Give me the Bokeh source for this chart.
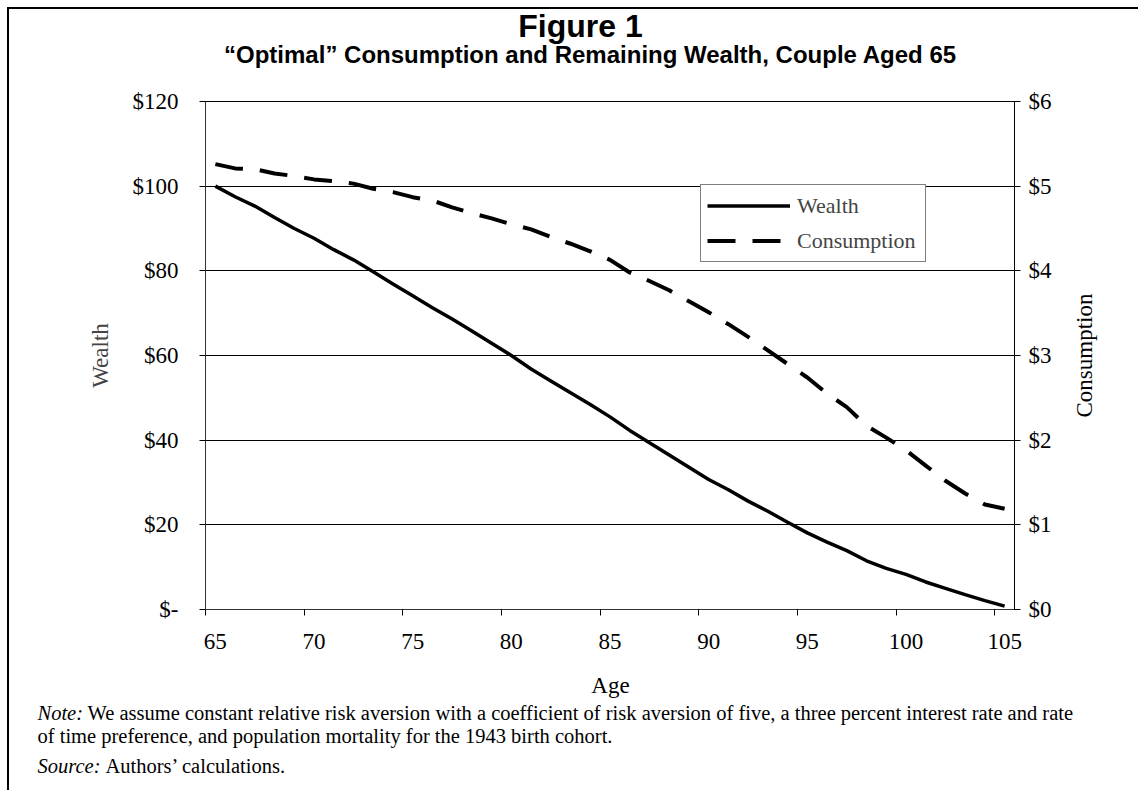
import math
from bokeh.plotting import figure
from bokeh.models import Range1d, LinearAxis, FixedTicker, Legend, LegendItem
from bokeh.embed import file_html
from bokeh.resources import INLINE
from bokeh.core.properties import value

# ---------------- data ----------------
ages = list(range(65, 106))
wealth = [100.0, 97.5, 95.3, 92.6, 90.0, 87.7, 85.0, 82.6, 79.8, 76.9,
          74.1, 71.3, 68.6, 65.8, 62.9, 60.0, 56.8, 54.0, 51.2, 48.4,
          45.5, 42.3, 39.4, 36.5, 33.6, 30.7, 28.3, 25.6, 23.2, 20.6,
          18.1, 15.9, 13.9, 11.5, 9.7, 8.3, 6.5, 5.0, 3.5, 2.1, 0.8]
consumption = [5.26, 5.21, 5.20, 5.15, 5.12, 5.08, 5.06, 5.03, 4.97, 4.93,
               4.87, 4.83, 4.75, 4.68, 4.62, 4.55, 4.49, 4.40, 4.32, 4.23,
               4.13, 3.98, 3.88, 3.77, 3.64, 3.51, 3.37, 3.22, 3.06, 2.90,
               2.74, 2.55, 2.39, 2.17, 2.03, 1.88, 1.70, 1.52, 1.37, 1.24, 1.19]
age_ticks = [65, 70, 75, 80, 85, 90, 95, 100, 105]
age_boundaries = [64.5, 69.5, 74.5, 79.5, 84.5, 89.5, 94.5, 99.5, 104.5]
wealth_ticks = [0, 20, 40, 60, 80, 100, 120]
wealth_tick_labels = ["$-", "$20", "$40", "$60", "$80", "$100", "$120"]
cons_ticks = [0, 1, 2, 3, 4, 5, 6]
cons_tick_labels = ["$0", "$1", "$2", "$3", "$4", "$5", "$6"]

title_text = "Figure 1"
subtitle_text = "\u201cOptimal\u201d Consumption and Remaining Wealth, Couple Aged 65"
x_title = "Age"
y_title = "Wealth"
y2_title = "Consumption"
note_lead = "Note:"
note_line1 = "We assume constant relative risk aversion with a coefficient of risk aversion of five, a three percent interest rate and rate"
note_line2 = "of time preference, and population mortality for the 1943 birth cohort."
source_lead = "Source:"
source_text = "Authors\u2019 calculations."

# ---------------- layout ----------------
OFF = 9                    # page offset of the content (7px margin + 2px border)
W = 1131
TOP_H = 72                 # title strip: page 7..79
MAIN_H = 585               # chart: page 79..664
BOT_H = 126                # notes strip: page 664..790
MAIN_TOP = 7 + TOP_H
BOT_TOP = MAIN_TOP + MAIN_H
FL, FR, FT, FB = 196, 1005, 22, 530      # frame edges inside the chart figure
X0, X1 = 64.5, 105.5
Y0, Y1 = 0, 120

SERIF = "Liberation Serif"
SANS = "Liberation Sans"
TICK_FS = "23px"
NOTE_FS = "20.5px"


def text_strip(width, height):
    f = figure(width=width, height=height, output_backend="svg", toolbar_location=None,
               x_range=Range1d(0, width), y_range=Range1d(height, 0),
               x_axis_location=None, y_axis_location=None,
               min_border=0, min_border_left=0, min_border_right=0,
               min_border_top=0, min_border_bottom=0)
    f.grid.visible = False
    f.outline_line_color = None
    f.background_fill_color = "white"
    f.border_fill_color = "white"
    return f


def put(f, x0, y0, txt, page_x, page_y, font, size, style="normal", align="left", angle=0.0):
    f.text(x=[page_x - x0], y=[page_y - y0], text=[txt], angle=angle,
           text_font=value(font), text_font_size=size, text_font_style=style,
           text_align=align, text_baseline="middle", text_color="black")


# ---- title strip ----
top = text_strip(W, TOP_H)
top.styles = {"margin-top": "7px", "margin-left": "7px",
              "border-top": "2px solid black", "border-left": "2px solid black"}
put(top, OFF, OFF, title_text, 580, 25, SANS, "32px", "bold", "center")
put(top, OFF, OFF, subtitle_text, 590, 54, SANS, "24px", "bold", "center")

# ---- chart ----
p = figure(width=W, height=MAIN_H, output_backend="svg", toolbar_location=None,
           x_range=Range1d(X0, X1), y_range=Range1d(Y0, Y1),
           min_border_left=FL, min_border_right=W - FR,
           min_border_top=FT, min_border_bottom=MAIN_H - FB)
p.styles = {"margin-left": "7px", "border-left": "2px solid black"}
p.outline_line_color = "black"
p.outline_line_width = 1
p.background_fill_color = "white"
p.border_fill_color = "white"

xa = p.xaxis[0]
xa.ticker = FixedTicker(ticks=age_ticks, minor_ticks=age_boundaries)
xa.major_tick_line_color = None
xa.major_tick_out = 6
xa.major_tick_in = 0
xa.minor_tick_line_color = "black"
xa.minor_tick_out = 6
xa.minor_tick_in = 0
xa.axis_line_color = "#333333"
xa.major_label_standoff = 18
xa.major_label_text_font = SERIF
xa.major_label_text_font_size = TICK_FS
xa.major_label_text_color = "black"

ya = p.yaxis[0]
ya.ticker = FixedTicker(ticks=wealth_ticks)
ya.major_label_overrides = {t: l for t, l in zip(wealth_ticks, wealth_tick_labels)}
ya.minor_tick_line_color = None
ya.major_tick_out = 6
ya.major_tick_in = 0
ya.major_tick_line_color = "black"
ya.axis_line_color = "#333333"
ya.major_label_standoff = 21
ya.major_label_text_font = SERIF
ya.major_label_text_font_size = TICK_FS
ya.major_label_text_color = "black"
ya.axis_label = y_title
ya.axis_label_text_font = SERIF
ya.axis_label_text_font_style = "normal"
ya.axis_label_text_font_size = TICK_FS
ya.axis_label_standoff = 17

p.xgrid.visible = False
p.ygrid.grid_line_color = "black"
p.ygrid.grid_line_width = 1

p.extra_y_ranges = {"cons": Range1d(0, 6)}
ra = LinearAxis(y_range_name="cons", ticker=FixedTicker(ticks=cons_ticks))
ra.major_label_overrides = {t: l for t, l in zip(cons_ticks, cons_tick_labels)}
ra.minor_tick_line_color = None
ra.major_tick_out = 6
ra.major_tick_in = 0
ra.axis_line_color = "black"
ra.major_label_standoff = 8
ra.major_label_text_font = SERIF
ra.major_label_text_font_size = TICK_FS
ra.major_label_text_color = "black"
p.add_layout(ra, "right")

r_w = p.line(ages, wealth, line_color="black", line_width=3.5)
r_c = p.line(ages, consumption, y_range_name="cons", line_color="black",
             line_width=4, line_dash="28 17")

legend = Legend(items=[LegendItem(label="Wealth", renderers=[r_w]),
                       LegendItem(label="Consumption", renderers=[r_c])],
                location=(700 - OFF - FL, FB - (262 - MAIN_TOP)),
                margin=0, padding=6, spacing=6,
                glyph_width=83, glyph_height=29, label_height=29,
                label_width=122, label_standoff=7,
                border_line_color="black", border_line_width=1,
                background_fill_color="white", background_fill_alpha=1.0,
                label_text_font=SERIF, label_text_font_size="22px")
p.add_layout(legend)

# ---- right-axis title (reads bottom to top), small strip placed beside the axis ----
R_LEFT, R_TOP, R_W, R_H = 1066, 255, 36, 200
rt = text_strip(R_W, R_H)
rt.styles = {"position": "absolute", "left": f"{R_LEFT}px", "top": f"{R_TOP}px"}
put(rt, R_LEFT, R_TOP, y2_title, 1084, 355, SERIF, TICK_FS, "normal", "center", math.pi / 2)

# ---- notes strip ----
bot = text_strip(W, BOT_H)
bot.styles = {"margin-left": "7px", "border-left": "2px solid black"}
put(bot, OFF, BOT_TOP, x_title, 610, 685, SERIF, TICK_FS, "normal", "center")
put(bot, OFF, BOT_TOP, note_lead, 37, 712, SERIF, NOTE_FS, "italic")
put(bot, OFF, BOT_TOP, note_line1, 87, 712, SERIF, NOTE_FS)
put(bot, OFF, BOT_TOP, note_line2, 37, 735, SERIF, NOTE_FS)
put(bot, OFF, BOT_TOP, source_lead, 37, 765, SERIF, NOTE_FS, "italic")
put(bot, OFF, BOT_TOP, source_text, 105, 765, SERIF, NOTE_FS)

open("out.html", "w").write(file_html([top, p, bot, rt], INLINE))
